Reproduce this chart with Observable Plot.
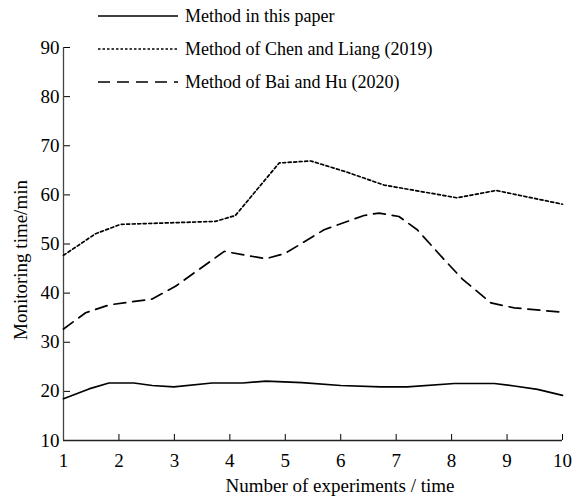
<!DOCTYPE html>
<html>
<head>
<meta charset="utf-8">
<script src="https://cdn.jsdelivr.net/npm/d3@7"></script>
<script src="https://cdn.jsdelivr.net/npm/@observablehq/plot@0.6"></script>
<style>
  body { margin: 0; background: white; }
  #wrap { position: relative; width: 572px; height: 500px; font-family: "Liberation Serif", "Times New Roman", serif; }
  #legend { position: absolute; left: 0; top: 0; }
  .row { position: absolute; left: 98px; display: flex; align-items: center; font-size: 18px; color: #000; white-space: nowrap; }
  .row svg { margin-right: 7px; }
</style>
</head>
<body>
<div id="wrap"><div id="legend"></div></div>
<script>
// ---- data ----
const seriesNames = ["Method in this paper", "Method of Chen and Liang (2019)", "Method of Bai and Hu (2020)"];
const xTicks = [1, 2, 3, 4, 5, 6, 7, 8, 9, 10];
const yTicks = [10, 20, 30, 40, 50, 60, 70, 80, 90];

const oursX = [1, 1.46, 1.82, 2.27, 2.6, 2.99, 3.68, 4.23, 4.65, 5.3, 6.0, 6.72, 7.2, 8.05, 8.77, 9.13, 9.55, 10];
const oursY = [18.5, 20.5, 21.7, 21.7, 21.2, 20.9, 21.7, 21.7, 22.1, 21.8, 21.2, 20.9, 20.9, 21.6, 21.6, 21.1, 20.4, 19.2];

const chenX = [1, 1.58, 2.03, 3.74, 4.1, 4.89, 5.46, 6.12, 6.78, 8.1, 8.8, 10];
const chenY = [47.7, 52.1, 54.0, 54.6, 55.8, 66.5, 66.9, 64.6, 62.0, 59.4, 60.9, 58.1];

const baiX = [1, 1.4, 1.82, 2.6, 3.02, 3.9, 4.65, 5.0, 5.7, 6.42, 6.69, 7.05, 7.38, 7.86, 8.2, 8.71, 9.13, 10];
const baiY = [32.7, 36.0, 37.6, 38.8, 41.4, 48.5, 47.0, 48.1, 52.9, 55.8, 56.3, 55.6, 52.9, 46.9, 42.8, 38.0, 37.0, 36.1];

// ---- styles ----
const dashes = [null, "3,2.5", "12,7"];
const legendDashes = [null, "2.5,2", "12,7"];
const strokeW = 1.7;

const toRows = (xs, ys) => xs.map((x, i) => ({x, y: ys[i]}));
const series = [toRows(oursX, oursY), toRows(chenX, chenY), toRows(baiX, baiY)];

const chart = Plot.plot({
  width: 572,
  height: 500,
  marginLeft: 63,
  marginRight: 10,
  marginTop: 47,
  marginBottom: 60,
  style: {fontFamily: "'Liberation Serif', 'Times New Roman', serif", fontSize: "19px", color: "#000", background: "white", overflow: "visible"},
  x: {domain: [1, 10]},
  y: {domain: [10, 90]},
  marks: [
    Plot.axisX(xTicks, {tickSize: 0, tickPadding: 13, label: null, fontSize: 19}),
    Plot.axisX(xTicks.slice(1), {tickSize: -6, tickFormat: () => "", label: null, stroke: "#000"}),
    Plot.axisY(yTicks, {tickSize: 0, tickPadding: 4, label: null, fontSize: 19}),
    Plot.axisY(yTicks, {tickSize: -7, tickFormat: () => "", label: null, stroke: "#000"}),
    Plot.ruleY([10], {stroke: "#222", strokeWidth: 1.3}),
    Plot.ruleX([1], {stroke: "#444", strokeWidth: 1.3}),
    ...series.map((d, i) => Plot.line(d, {x: "x", y: "y", curve: "linear", strokeLinejoin: "round", stroke: "#000", strokeWidth: strokeW, strokeDasharray: dashes[i]})),
    Plot.text(["Number of experiments / time"], {frameAnchor: "bottom", dy: 51, dx: 27, fontSize: 19, text: d => d}),
    Plot.text(["Monitoring time/min"], {frameAnchor: "left", textAnchor: "middle", dx: -43, dy: 16, rotate: -90, fontSize: 19, text: d => d})
  ]
});
document.getElementById("wrap").insertBefore(chart, document.getElementById("legend"));

// ---- legend overlay ----
const legend = document.getElementById("legend");
const rowTops = [16, 49, 82];
seriesNames.forEach((name, i) => {
  const row = document.createElement("div");
  row.className = "row";
  row.style.top = (rowTops[i] - 11) + "px";
  row.style.height = "22px";
  const svg = d3.create("svg").attr("width", 80).attr("height", 10);
  svg.append("line").attr("x1", 0).attr("x2", 80).attr("y1", 5).attr("y2", 5)
    .attr("stroke", "#000").attr("stroke-width", strokeW)
    .attr("stroke-dasharray", legendDashes[i]);
  row.appendChild(svg.node());
  const span = document.createElement("span");
  span.textContent = name;
  row.appendChild(span);
  legend.appendChild(row);
});
</script>
</body>
</html>
